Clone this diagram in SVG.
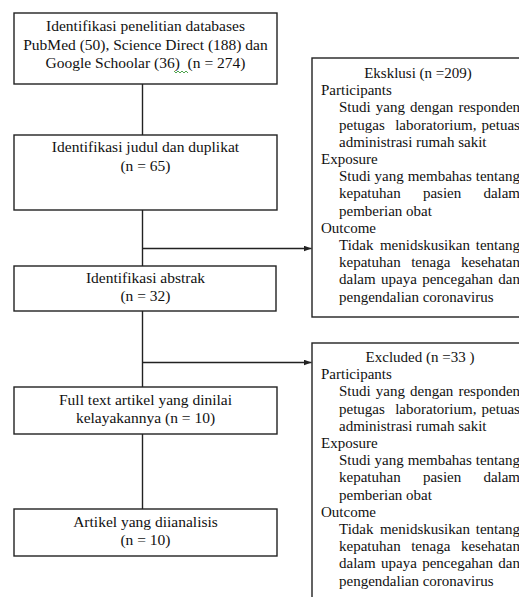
<svg xmlns="http://www.w3.org/2000/svg" width="519" height="597" viewBox="0 0 519 597">
<defs>
<style>
.box{fill:#fff;stroke:#222;stroke-width:1.4}
.t{font-family:"Liberation Serif","Times New Roman",serif;font-size:15.5px;fill:#111;text-anchor:middle}
.r{font-family:"Liberation Serif","Times New Roman",serif;font-size:15px;fill:#111}
.c{text-anchor:middle}
.ln{fill:none;stroke:#222;stroke-width:1.4}
</style>
<marker id="ah" viewBox="0 0 8 6" refX="8" refY="3" markerWidth="8" markerHeight="6" markerUnits="userSpaceOnUse" orient="auto">
<path d="M0,0 L8,3 L0,6 z" fill="#222"/>
</marker>
</defs>
<rect width="519" height="597" fill="#fff"/>
<g id="connectors">
<line class="ln" x1="142.5" y1="84" x2="142.5" y2="135"/>
<line class="ln" x1="142.5" y1="210" x2="142.5" y2="266"/>
<line class="ln" x1="142.5" y1="311" x2="142.5" y2="387"/>
<line class="ln" x1="142.5" y1="434" x2="142.5" y2="509"/>
<line class="ln" x1="142.5" y1="248.5" x2="311.5" y2="248.5" marker-end="url(#ah)"/>
<line class="ln" x1="142.5" y1="362.5" x2="311.5" y2="362.5" marker-end="url(#ah)"/>
</g>
<g id="n1">
<rect class="box" x="14" y="13" width="263" height="71"/>
<text class="t" x="145.5" y="31">Identifikasi penelitian databases</text>
<text class="t" x="145.5" y="49.5">PubMed (50), Science Direct (188) dan</text>
<text class="t" x="145.5" y="68" xml:space="preserve">Google Schoolar (36)  (n = 274)</text>
<path d="M174,71 l2,2 l2,-2 l2,2 l2,-2 l2,2 l2,-2 l2,2" fill="none" stroke="#3a9a3a" stroke-width="0.9"/>
</g>
<g id="n2">
<rect class="box" x="14" y="135" width="263" height="75"/>
<text class="t" x="145.5" y="152">Identifikasi judul dan duplikat</text>
<text class="t" x="145.5" y="170.5">(n = 65)</text>
</g>
<g id="n3">
<rect class="box" x="14" y="266" width="262" height="45"/>
<text class="t" x="145.5" y="283">Identifikasi abstrak</text>
<text class="t" x="145.5" y="301">(n = 32)</text>
</g>
<g id="n4">
<rect class="box" x="14" y="387" width="263" height="47"/>
<text class="t" x="145.5" y="405">Full text artikel yang dinilai</text>
<text class="t" x="145.5" y="423">kelayakannya (n = 10)</text>
</g>
<g id="n5">
<rect class="box" x="14" y="509" width="263" height="47"/>
<text class="t" x="145.5" y="527">Artikel yang diianalisis</text>
<text class="t" x="145.5" y="545">(n = 10)</text>
</g>
<g id="ex1">
<rect class="box" x="312" y="58" width="240" height="259"/>
<text class="r c" x="418" y="78">Eksklusi (n =209)</text>
<text class="r" x="321" y="95.2">Participants</text>
<text class="r" y="112.4"><tspan x="339">Studi</tspan><tspan x="375.8">yang</tspan><tspan x="410">dengan</tspan><tspan x="458.4">responden</tspan></text>
<text class="r" y="129.6"><tspan x="339">petugas</tspan><tspan x="395.2">laboratorium,</tspan><tspan x="481.6">petuas</tspan></text>
<text class="r" x="339" y="146.8">administrasi rumah sakit</text>
<text class="r" x="321" y="164">Exposure</text>
<text class="r" y="181.2"><tspan x="339">Studi</tspan><tspan x="374.6">yang</tspan><tspan x="407.7">membahas</tspan><tspan x="475.8">tentang</tspan></text>
<text class="r" y="198.4"><tspan x="339">kepatuhan</tspan><tspan x="422.9">pasien</tspan><tspan x="483.4">dalam</tspan></text>
<text class="r" x="339" y="215.6">pemberian obat</text>
<text class="r" x="321" y="232.8">Outcome</text>
<text class="r" y="250"><tspan x="339">Tidak</tspan><tspan x="379.9">menidskusikan</tspan><tspan x="475.8">tentang</tspan></text>
<text class="r" y="267.2"><tspan x="339">kepatuhan</tspan><tspan x="411.2">tenaga</tspan><tspan x="460.9">kesehatan</tspan></text>
<text class="r" y="284.4"><tspan x="339">dalam</tspan><tspan x="381">upaya</tspan><tspan x="422.2">pencegahan</tspan><tspan x="498.3">dan</tspan></text>
<text class="r" x="339" y="301.6">pengendalian coronavirus</text>
</g>
<g id="ex2">
<rect class="box" x="312" y="343" width="240" height="280"/>
<text class="r c" x="420" y="362">Excluded (n =33 )</text>
<text class="r" x="321" y="379.2">Participants</text>
<text class="r" y="396.4"><tspan x="339">Studi</tspan><tspan x="375.8">yang</tspan><tspan x="410">dengan</tspan><tspan x="458.4">responden</tspan></text>
<text class="r" y="413.6"><tspan x="339">petugas</tspan><tspan x="395.2">laboratorium,</tspan><tspan x="481.6">petuas</tspan></text>
<text class="r" x="339" y="430.8">administrasi rumah sakit</text>
<text class="r" x="321" y="448">Exposure</text>
<text class="r" y="465.2"><tspan x="339">Studi</tspan><tspan x="374.6">yang</tspan><tspan x="407.7">membahas</tspan><tspan x="475.8">tentang</tspan></text>
<text class="r" y="482.4"><tspan x="339">kepatuhan</tspan><tspan x="422.9">pasien</tspan><tspan x="483.4">dalam</tspan></text>
<text class="r" x="339" y="499.6">pemberian obat</text>
<text class="r" x="321" y="516.8">Outcome</text>
<text class="r" y="534"><tspan x="339">Tidak</tspan><tspan x="379.9">menidskusikan</tspan><tspan x="475.8">tentang</tspan></text>
<text class="r" y="551.2"><tspan x="339">kepatuhan</tspan><tspan x="411.2">tenaga</tspan><tspan x="460.9">kesehatan</tspan></text>
<text class="r" y="568.4"><tspan x="339">dalam</tspan><tspan x="381">upaya</tspan><tspan x="422.2">pencegahan</tspan><tspan x="498.3">dan</tspan></text>
<text class="r" x="339" y="585.6">pengendalian coronavirus</text>
</g>
</svg>
